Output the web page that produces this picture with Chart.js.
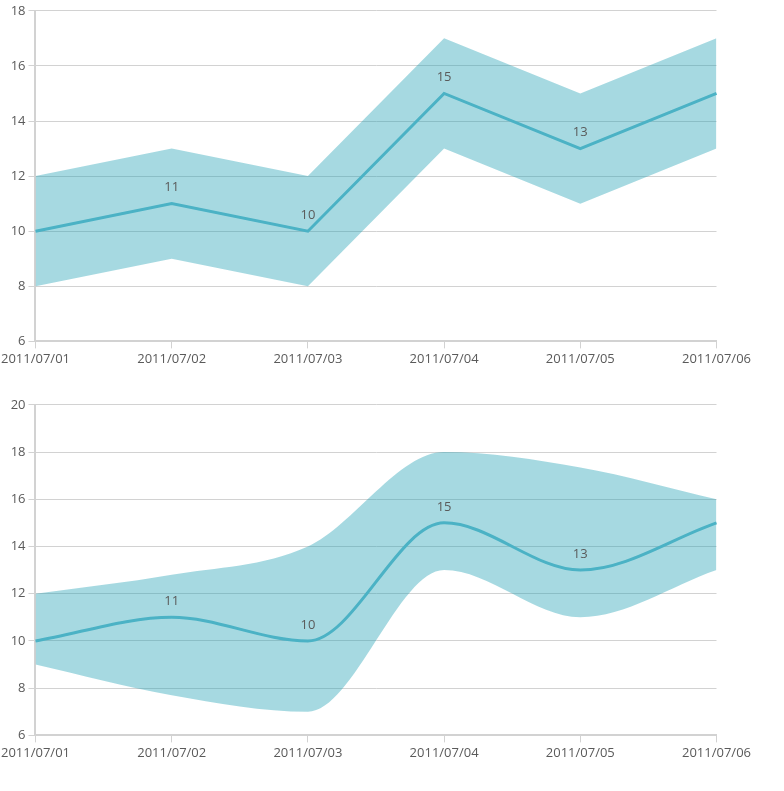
<!DOCTYPE html>
<html>
<head>
<meta charset="utf-8">
<script src="https://cdn.jsdelivr.net/npm/chart.js@4.4.1/dist/chart.umd.min.js"></script>
<style>
  html, body { margin: 0; padding: 0; background: #fff; overflow: hidden; }
  .box { position: absolute; left: -2px; width: 756px; height: 370px; }
  #box1 { top: 0; }
  #box2 { top: 394px; }
</style>
</head>
<body>
<div class="box" id="box1"><canvas id="chart1"></canvas></div>
<div class="box" id="box2"><canvas id="chart2"></canvas></div>
<script>
// ── Data ──────────────────────────────────────────────────────────────────
var dates = ['2011/07/01', '2011/07/02', '2011/07/03', '2011/07/04', '2011/07/05', '2011/07/06'];

// top chart (straight lines)
var value1 = [10, 11, 10, 15, 13, 15];
var high1  = [12, 13, 12, 17, 15, 17];
var low1   = [8, 9, 8, 13, 11, 13];

// bottom chart (smoothed)
var value2 = [10, 11, 10, 15, 13, 15];
var high2  = [12, 12.8, 14, 18, 17.35, 16];
var low2   = [9, 7.7, 7, 13, 11, 13];

var yTicks1 = { min: 6, max: 18, step: 2 };
var yTicks2 = { min: 6, max: 20, step: 2 };

// ── Styling ───────────────────────────────────────────────────────────────
var lineColor = '#4bb2c5';
var bandColor = 'rgba(32,160,180,0.4)';
var gridColor = '#d2d2d2';
var textColor = '#5a5a5a';
var font = { family: '"Open Sans", sans-serif', size: 13 };

// value labels above the points (first and last are not shown)
var valueLabels = {
    id: 'valueLabels',
    afterDatasetsDraw: function (chart) {
        var ctx = chart.ctx;
        var meta = chart.getDatasetMeta(0);
        var data = chart.data.datasets[0].data;
        ctx.save();
        ctx.font = font.size + 'px ' + font.family;
        ctx.fillStyle = textColor;
        ctx.textAlign = 'center';
        ctx.textBaseline = 'middle';
        meta.data.forEach(function (pt, i) {
            if (i === 0 || i === data.length - 1) return;
            ctx.fillText(String(data[i]), pt.x, pt.y - 16);
        });
        ctx.restore();
    }
};

function makeChart(id, values, highs, lows, yt, smooth) {
    var mode = smooth ? 'monotone' : 'default';
    return new Chart(document.getElementById(id).getContext('2d'), {
        type: 'line',
        data: {
            labels: dates,
            datasets: [
                {
                    data: values,
                    borderColor: lineColor,
                    borderWidth: 3,
                    pointRadius: 0,
                    fill: false,
                    cubicInterpolationMode: mode,
                    tension: 0
                },
                {
                    data: highs,
                    borderWidth: 0,
                    borderColor: 'transparent',
                    backgroundColor: bandColor,
                    pointRadius: 0,
                    fill: '+1',
                    cubicInterpolationMode: mode,
                    tension: 0
                },
                {
                    data: lows,
                    borderWidth: 0,
                    borderColor: 'transparent',
                    pointRadius: 0,
                    fill: false,
                    cubicInterpolationMode: mode,
                    tension: 0
                }
            ]
        },
        options: {
            responsive: true,
            maintainAspectRatio: false,
            animation: false,
            layout: { padding: { top: 3, left: 0, right: 0, bottom: 0 } },
            plugins: { legend: { display: false }, tooltip: { enabled: false } },
            scales: {
                x: {
                    offset: false,
                    grid: { drawOnChartArea: false, color: gridColor, tickLength: 7 },
                    border: { color: gridColor, width: 2 },
                    ticks: { color: textColor, font: font, maxRotation: 0, padding: 3 }
                },
                y: {
                    min: yt.min,
                    max: yt.max,
                    grid: { color: gridColor, tickLength: 7 },
                    border: { color: gridColor, width: 2 },
                    ticks: { stepSize: yt.step, color: textColor, font: font, padding: 3 }
                }
            }
        },
        plugins: [valueLabels]
    });
}

makeChart('chart1', value1, high1, low1, yTicks1, false);
makeChart('chart2', value2, high2, low2, yTicks2, true);
</script>
</body>
</html>
